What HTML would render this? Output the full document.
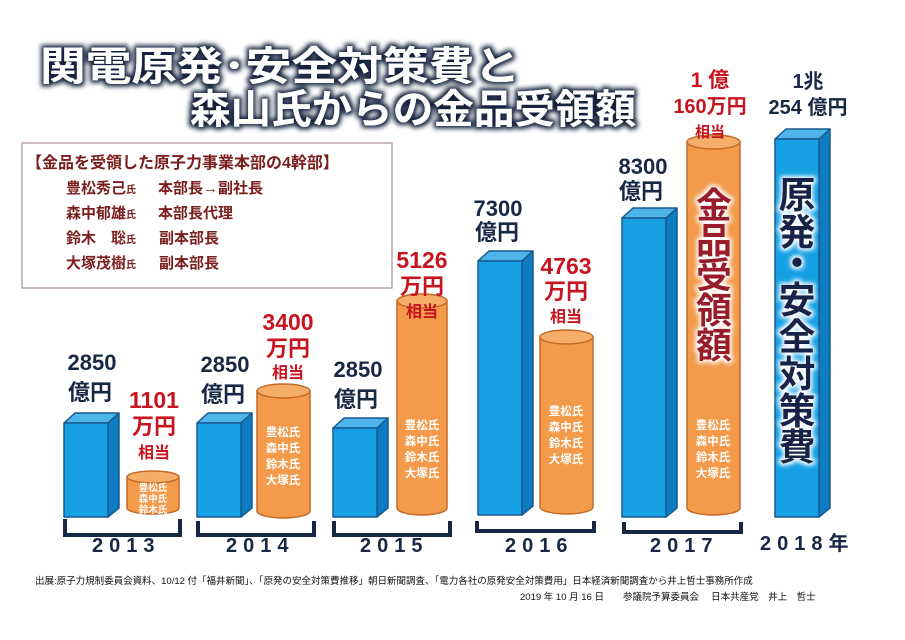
<!DOCTYPE html>
<html><head><meta charset="utf-8"><style>
body{margin:0;background:#fff;}
svg{display:block;font-family:"Liberation Sans","Noto Sans CJK JP",sans-serif;}
</style></head><body>
<svg width="905" height="640" viewBox="0 0 905 640" xmlns="http://www.w3.org/2000/svg">
<defs>
<filter id="glow" x="-20%" y="-30%" width="140%" height="160%">
<feMorphology in="SourceAlpha" operator="dilate" radius="2.5" result="d"/>
<feGaussianBlur in="d" stdDeviation="2.5" result="b"/>
<feFlood flood-color="#14213d"/><feComposite in2="b" operator="in" result="s"/>
<feMerge><feMergeNode in="s"/><feMergeNode in="SourceGraphic"/></feMerge></filter>
<filter id="wglow" x="-30%" y="-10%" width="160%" height="120%">
<feMorphology in="SourceAlpha" operator="dilate" radius="2" result="d"/>
<feGaussianBlur in="d" stdDeviation="2" result="b"/>
<feFlood flood-color="#ffffff"/><feComposite in2="b" operator="in" result="s"/>
<feMerge><feMergeNode in="s"/><feMergeNode in="SourceGraphic"/></feMerge></filter>
</defs>
<!-- title -->
<g filter="url(#glow)" fill="#fff" font-weight="bold" font-size="40">
<text x="40" y="80" textLength="480" lengthAdjust="spacingAndGlyphs">関電原発･安全対策費と</text>
<text x="190" y="123" textLength="446" lengthAdjust="spacingAndGlyphs">森山氏からの金品受領額</text>
</g>
<!-- legend -->
<rect x="22" y="143" width="370" height="145" fill="#fff" stroke="#a89090" stroke-width="1.2"/>
<g fill="#7a1e1e" font-weight="bold">
<text x="26" y="168" font-size="16">【金品を受領した原子力事業本部の4幹部】</text>
<g font-size="15">
<text x="66" y="193">豊松秀己<tspan font-size="10">氏</tspan></text><text x="158" y="193">本部長→副社長</text>
<text x="66" y="218">森中郁雄<tspan font-size="10">氏</tspan></text><text x="158" y="218">本部長代理</text>
<text x="66" y="243">鈴木　聡<tspan font-size="10">氏</tspan></text><text x="159" y="243">副本部長</text>
<text x="66" y="268">大塚茂樹<tspan font-size="10">氏</tspan></text><text x="159" y="268">副本部長</text>
</g></g>
<!-- blue bars -->
<g stroke="#1a5a90" stroke-width="1.5" stroke-linejoin="round">
<g><polygon points="64,423 75,413 119,413 108,423" fill="#4db5ea"/><polygon points="108,423 119,413 119,508 108,517" fill="#0e7cc0"/><rect x="64" y="423" width="44" height="94" fill="#15a0e4"/></g>
<g><polygon points="197,423 208,413 252,413 241,423" fill="#4db5ea"/><polygon points="241,423 252,413 252,508 241,517" fill="#0e7cc0"/><rect x="197" y="423" width="44" height="94" fill="#15a0e4"/></g>
<g><polygon points="333,428 344,418 388,418 377,428" fill="#4db5ea"/><polygon points="377,428 388,418 388,508 377,517" fill="#0e7cc0"/><rect x="333" y="428" width="44" height="89" fill="#15a0e4"/></g>
<g><polygon points="478,261 489,251 533,251 522,261" fill="#4db5ea"/><polygon points="522,261 533,251 533,506 522,515" fill="#0e7cc0"/><rect x="478" y="261" width="44" height="254" fill="#15a0e4"/></g>
<g><polygon points="622,218 633,208 677,208 666,218" fill="#4db5ea"/><polygon points="666,218 677,208 677,508 666,517" fill="#0e7cc0"/><rect x="622" y="218" width="44" height="299" fill="#15a0e4"/></g>
<g><polygon points="775,139 786,129 830,129 819,139" fill="#4db5ea"/><polygon points="819,139 830,129 830,508 819,517" fill="#0e7cc0"/><rect x="775" y="139" width="44" height="378" fill="#15a0e4"/></g>
</g>
<!-- cylinders -->
<g stroke="#c46a28" stroke-width="1.5" fill="#f39a4b">
<path d="M127,477 L127,508 A26,6 0 0 0 179,508 L179,477 Z"/><ellipse cx="153" cy="477" rx="26" ry="6" fill="#f6ad6a"/>
<path d="M257,391 L257,511 A26.5,7 0 0 0 310,511 L310,391 Z"/><ellipse cx="283.5" cy="391" rx="26.5" ry="7" fill="#f6ad6a"/>
<path d="M397,301 L397,508 A25,7 0 0 0 447,508 L447,301 Z"/><ellipse cx="422" cy="301" rx="25" ry="7" fill="#f6ad6a"/>
<path d="M540,337 L540,507 A26.5,7 0 0 0 593,507 L593,337 Z"/><ellipse cx="566.5" cy="337" rx="26.5" ry="7" fill="#f6ad6a"/>
<path d="M687,142 L687,508 A26.5,7 0 0 0 740,508 L740,142 Z"/><ellipse cx="713.5" cy="142" rx="26.5" ry="7" fill="#f6ad6a"/>
</g>
<!-- cylinder names -->
<g fill="#fff" font-weight="bold" text-anchor="middle">
<g font-size="9.5"><text x="153" y="491">豊松氏</text><text x="153" y="502">森中氏</text><text x="153" y="513">鈴木氏</text></g>
<g font-size="11.5"><text x="283" y="436">豊松氏</text><text x="283" y="452">森中氏</text><text x="283" y="468">鈴木氏</text><text x="283" y="484">大塚氏</text></g>
<g font-size="11.5"><text x="422" y="429">豊松氏</text><text x="422" y="445">森中氏</text><text x="422" y="461">鈴木氏</text><text x="422" y="477">大塚氏</text></g>
<g font-size="11.5"><text x="566" y="415">豊松氏</text><text x="566" y="431">森中氏</text><text x="566" y="447">鈴木氏</text><text x="566" y="463">大塚氏</text></g>
<g font-size="11.5"><text x="713" y="429">豊松氏</text><text x="713" y="445">森中氏</text><text x="713" y="461">鈴木氏</text><text x="713" y="477">大塚氏</text></g>
</g>
<!-- vertical big texts -->
<g filter="url(#wglow)" font-weight="bold" font-size="36" text-anchor="middle" fill="#9a1f2c">
<text x="714" y="218">金</text><text x="714" y="253">品</text><text x="714" y="288">受</text><text x="714" y="323">領</text><text x="714" y="358">額</text>
</g>
<g filter="url(#wglow)" font-weight="bold" font-size="37" text-anchor="middle" fill="#152447">
<text x="797" y="208">原</text><text x="797" y="245">発</text><text x="797" y="276">・</text><text x="797" y="313">安</text><text x="797" y="350">全</text><text x="797" y="387">対</text><text x="797" y="424">策</text><text x="797" y="460">費</text>
</g>
<!-- blue value labels -->
<g fill="#172844" font-weight="bold" font-size="22" text-anchor="middle">
<text x="92" y="370">2850</text><text x="90" y="400">億円</text>
<text x="225" y="372">2850</text><text x="223" y="402">億円</text>
<text x="358" y="377">2850</text><text x="356" y="407">億円</text>
<text x="498" y="216">7300</text><text x="497" y="240">億円</text>
<text x="643" y="174">8300</text><text x="641" y="199">億円</text>
<text x="808" y="88" font-size="20">1兆</text><text x="808" y="114" font-size="20">254 億円</text>
</g>
<!-- red labels -->
<g fill="#c8141e" font-weight="bold" text-anchor="middle">
<text x="154" y="408" font-size="23">1101</text><text x="154" y="434" font-size="22">万円</text><text x="154" y="458" font-size="16">相当</text>
<text x="288" y="330" font-size="23">3400</text><text x="288" y="356" font-size="22">万円</text><text x="288" y="378" font-size="16">相当</text>
<text x="422" y="268" font-size="23">5126</text><text x="422" y="294" font-size="22">万円</text><text x="422" y="317" font-size="16">相当</text>
<text x="566" y="274" font-size="23">4763</text><text x="566" y="299" font-size="22">万円</text><text x="566" y="322" font-size="16">相当</text>
<text x="710" y="87" font-size="21">1 億</text><text x="710" y="113" font-size="20">160万円</text><text x="710" y="137" font-size="15">相当</text>
</g>
<!-- brackets -->
<g fill="none" stroke="#172844" stroke-width="4">
<path d="M65,519 V535 H180 V519"/>
<path d="M198,521 V535 H314 V521"/>
<path d="M334,521 V535 H450 V521"/>
<path d="M477,521 V531 H594 V521"/>
<path d="M624,522 V532 H741 V522"/>
</g>
<g fill="#172844" font-size="20" font-weight="bold" letter-spacing="6">
<text x="92" y="552">2013</text>
<text x="226" y="552">2014</text>
<text x="360" y="552">2015</text>
<text x="505" y="552">2016</text>
<text x="650" y="552">2017</text>
<text x="760" y="550">2018<tspan letter-spacing="0">年</tspan></text>
</g>
<!-- footer -->
<g fill="#111" font-size="9.5">
<text x="35" y="584">出展:原子力規制委員会資料、10/12 付「福井新聞」、「原発の安全対策費推移」朝日新聞調査、「電力各社の原発安全対策費用」日本経済新聞調査から井上哲士事務所作成</text>
<text x="520" y="600" xml:space="preserve">2019 年 10 月 16 日　　参議院予算委員会　 日本共産党　井上　哲士</text>
</g>
</svg>
</body></html>
